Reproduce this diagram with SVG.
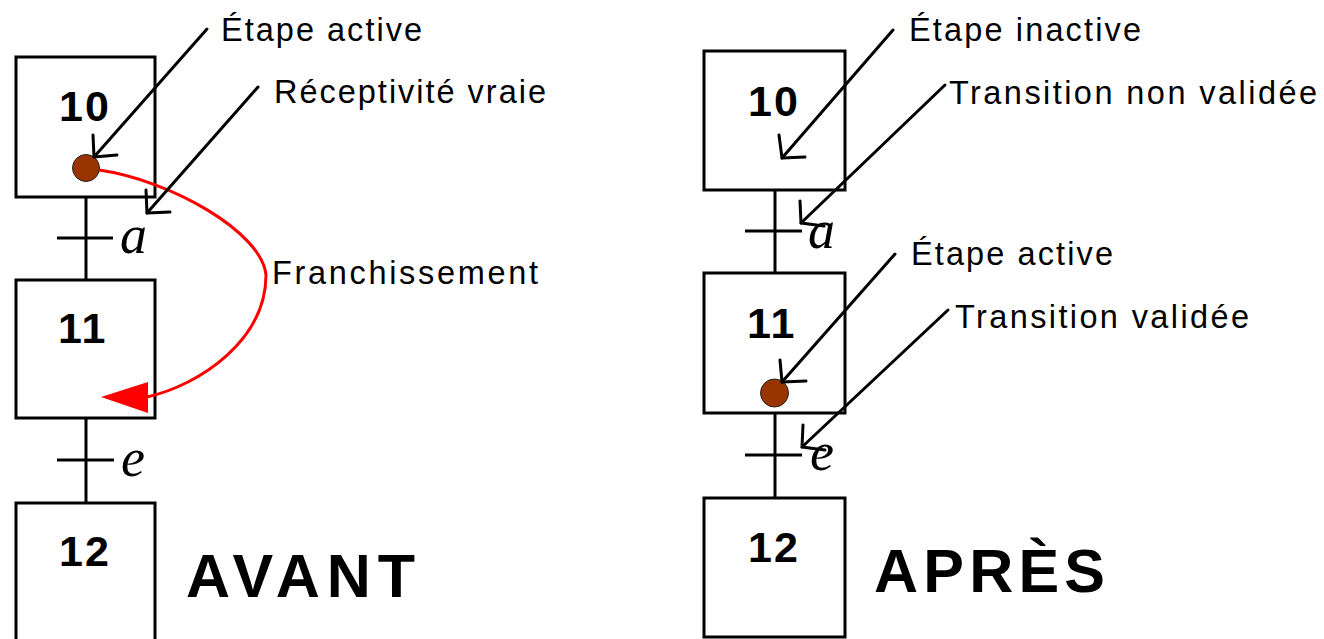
<svg xmlns="http://www.w3.org/2000/svg" width="1324" height="639" viewBox="0 0 1324 639">
  <style>
    .step { fill: #ffffff; stroke: #000000; stroke-width: 3; }
    .num { font-family: "Liberation Sans", Arial, sans-serif; font-weight: bold; font-size: 43px; letter-spacing: 2px; fill: #000000; }
    .label { font-family: "Liberation Sans", Arial, sans-serif; font-size: 32.5px; fill: #000000; }
    .cond { font-family: "Liberation Serif", "Times New Roman", serif; font-style: italic; font-size: 54px; fill: #000000; }
    .title { font-family: "Liberation Sans", Arial, sans-serif; font-weight: bold; font-size: 61px; fill: #000000; }
    .link { fill: none; stroke: #000000; stroke-width: 3; }
    .ptr { fill: none; stroke: #000000; stroke-width: 3; stroke-linecap: round; stroke-linejoin: round; }
    .token { fill: #993300; stroke: #222222; stroke-width: 1; }
    .fire { fill: none; stroke: #ff0000; stroke-width: 3; }
  </style>

  <!-- ===== Left chart: before firing ===== -->
  <g id="connectors-left">
    <line class="link" x1="86" y1="197" x2="86" y2="280"/>
    <line class="link" x1="57" y1="238" x2="113" y2="238"/>
    <line class="link" x1="86" y1="418" x2="86" y2="503"/>
    <line class="link" x1="57" y1="460" x2="114" y2="460"/>
  </g>

  <g id="left-step-10">
    <rect class="step" x="16" y="57" width="139" height="140"/>
    <text class="num" x="59" y="121">10</text>
    <circle class="token" cx="86" cy="168" r="13.5"/>
  </g>
  <g id="left-step-11">
    <rect class="step" x="16" y="280" width="139" height="138"/>
    <text class="num" x="58" y="343">11</text>
  </g>
  <g id="left-step-12">
    <rect class="step" x="16" y="503" width="139" height="142"/>
    <text class="num" x="59" y="566">12</text>
  </g>

  <g id="left-conditions">
    <text class="cond" x="120" y="253">a</text>
    <text class="cond" x="121" y="476">e</text>
  </g>

  <!-- firing of the transition: token moves from step 10 to step 11 -->
  <g id="left-firing">
    <path class="fire" d="M99,170 C170,180 262,232 266,275 C266,340 200,385 147,397"/>
    <polygon points="101,397 148,382 148,413" fill="#ff0000"/>
    <text class="label" x="272" y="284" textLength="266" lengthAdjust="spacing">Franchissement</text>
  </g>

  <g id="left-callouts">
    <line class="ptr" x1="207" y1="29" x2="94" y2="157"/>
    <polyline class="ptr" points="93,135 94,157 117,155"/>
    <text class="label" x="221" y="41" textLength="201" lengthAdjust="spacing">Étape active</text>

    <line class="ptr" x1="258" y1="87" x2="147" y2="213"/>
    <polyline class="ptr" points="146,190 147,213 170,212"/>
    <text class="label" x="274" y="103" textLength="272" lengthAdjust="spacing">Réceptivité vraie</text>
  </g>

  <text id="title-avant" class="title" x="186" y="597" textLength="229" lengthAdjust="spacing">AVANT</text>

  <!-- ===== Right chart: after firing ===== -->
  <g id="connectors-right">
    <line class="link" x1="775" y1="190" x2="775" y2="273"/>
    <line class="link" x1="745" y1="231" x2="802" y2="231"/>
    <line class="link" x1="775" y1="413" x2="775" y2="498"/>
    <line class="link" x1="745" y1="455" x2="802" y2="455"/>
  </g>

  <g id="right-step-10">
    <rect class="step" x="704" y="51" width="141" height="139"/>
    <text class="num" x="748" y="116">10</text>
  </g>
  <g id="right-step-11">
    <rect class="step" x="704" y="273" width="141" height="140"/>
    <text class="num" x="747" y="338">11</text>
    <circle class="token" cx="774.5" cy="393" r="14"/>
  </g>
  <g id="right-step-12">
    <rect class="step" x="704" y="498" width="141" height="139"/>
    <text class="num" x="748" y="562">12</text>
  </g>

  <g id="right-conditions">
    <text class="cond" x="808" y="248">a</text>
    <text class="cond" x="810" y="470">e</text>
  </g>

  <g id="right-callouts">
    <line class="ptr" x1="893" y1="30" x2="782" y2="158"/>
    <polyline class="ptr" points="779,135 782,158 805,157"/>
    <text class="label" x="909" y="41" textLength="232" lengthAdjust="spacing">Étape inactive</text>

    <line class="ptr" x1="945" y1="85" x2="801" y2="223"/>
    <polyline class="ptr" points="800,201 801,223 824,226"/>
    <text class="label" x="949" y="104" textLength="368" lengthAdjust="spacing">Transition non validée</text>

    <line class="ptr" x1="895" y1="254" x2="782" y2="382"/>
    <polyline class="ptr" points="780,360 782,382 806,381"/>
    <text class="label" x="911" y="265" textLength="202" lengthAdjust="spacing">Étape active</text>

    <line class="ptr" x1="948" y1="310" x2="802" y2="447"/>
    <polyline class="ptr" points="803,425 802,447 825,450"/>
    <text class="label" x="955" y="328" textLength="294" lengthAdjust="spacing">Transition validée</text>
  </g>

  <text id="title-apres" class="title" x="874" y="592" textLength="231" lengthAdjust="spacing">APRÈS</text>
</svg>
